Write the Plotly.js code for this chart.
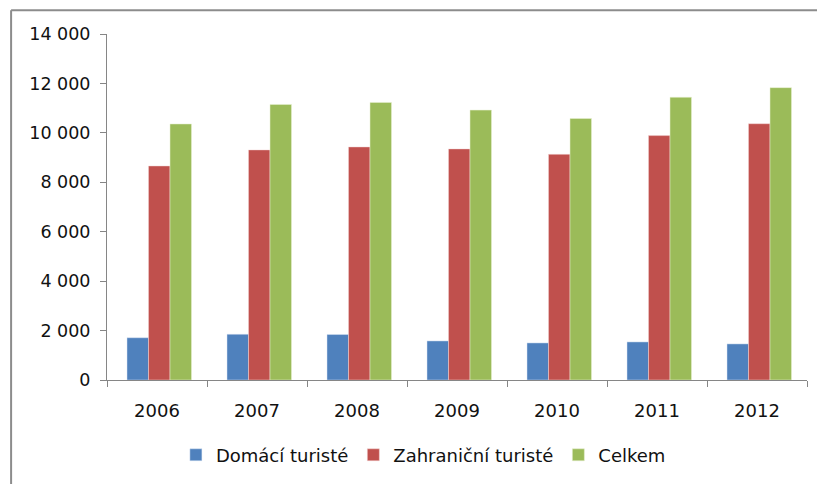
<!DOCTYPE html>
<html>
<head>
<meta charset="utf-8">
<script src="https://cdn.plot.ly/plotly-3.0.1.min.js"></script>
<style>
html,body{margin:0;padding:0;background:#fff;}
#chart{width:817px;height:484px;}
</style>
</head>
<body>
<div id="chart"></div>
<script>
const years = ["2006","2007","2008","2009","2010","2011","2012"];
const domaci = [1710, 1850, 1840, 1580, 1500, 1540, 1460];
const zahranicni = [8660, 9310, 9430, 9350, 9130, 9890, 10370];
const celkem = [10360, 11150, 11230, 10920, 10580, 11440, 11830];
const seriesNames = ["Domácí turisté", "Zahraniční turisté", "Celkem"];
const yTickVals = [0, 2000, 4000, 6000, 8000, 10000, 12000, 14000];
const yTickText = ["0", "2 000", "4 000", "6 000", "8 000", "10 000", "12 000", "14 000"];

const colors = ["#4F81BD", "#C0504D", "#9BBB59"];
const edge = ["rgba(220,230,245,0.8)", "rgba(245,215,215,0.8)", "rgba(230,240,210,0.9)"];
const offsets = [-0.30, -0.085, 0.13];
const values = [domaci, zahranicni, celkem];

const traces = values.map((v, i) => ({
  type: "bar",
  x: years,
  y: v,
  name: seriesNames[i],
  width: 0.215,
  offset: offsets[i],
  marker: {color: colors[i], line: {color: edge[i], width: 0.6}},
  hoverinfo: "x+y+name"
}));

const font = {family: "DejaVu Sans, sans-serif", size: 18, color: "#111"};
const axisColor = "#868686";

const layout = {
  width: 817, height: 484,
  margin: {l: 107, r: 10, t: 34, b: 104},
  paper_bgcolor: "#fff", plot_bgcolor: "#fff",
  font: font,
  barmode: "group",
  bargap: 0.34,
  bargroupgap: 0,
  showlegend: true,
  legend: {
    orientation: "h", x: 0.452, xanchor: "center", y: -0.217, yanchor: "middle",
    font: {family: "DejaVu Sans, sans-serif", size: 18, color: "#111"},
    itemwidth: 30, traceorder: "normal"
  },
  xaxis: {
    type: "category",
    showline: true, linecolor: axisColor, linewidth: 1,
    ticks: "outside", tickson: "boundaries", ticklen: 6, tickcolor: axisColor,
    showgrid: false, zeroline: false,
    tickfont: font, ticklabelstandoff: 14
  },
  yaxis: {
    range: [0, 14000],
    tickvals: yTickVals, ticktext: yTickText,
    showline: true, linecolor: axisColor, linewidth: 1,
    ticks: "outside", ticklen: 6, tickcolor: axisColor,
    showgrid: false, zeroline: false,
    tickfont: Object.assign({}, font, {size: 17.5}),
    ticklabelstandoff: 6
  },
  shapes: [
    {type: "line", xref: "paper", yref: "paper", x0: -0.137, x1: -0.137, y0: -0.31, y1: 1.069,
     line: {color: "#8c8c8c", width: 2}},
    {type: "line", xref: "paper", yref: "paper", x0: -0.137, x1: 1.02, y0: 1.069, y1: 1.069,
     line: {color: "#8c8c8c", width: 2}}
  ]
};

Plotly.newPlot("chart", traces, layout, {displayModeBar: false, staticPlot: true});
</script>
</body>
</html>
